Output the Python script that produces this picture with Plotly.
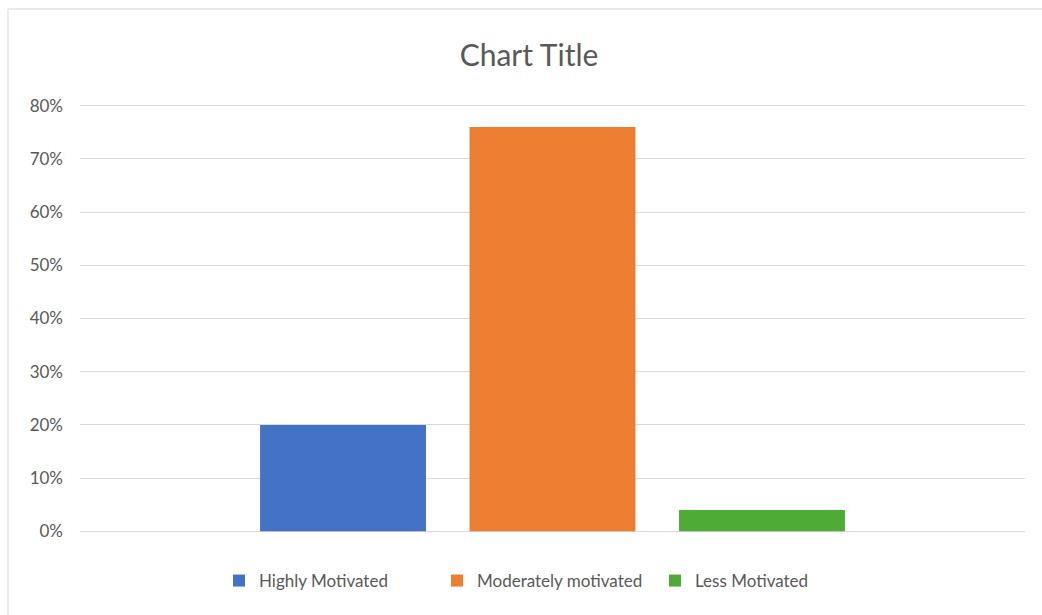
import plotly.graph_objects as go

series = ["Highly Motivated", "Moderately motivated", "Less Motivated"]
values = [0.20, 0.76, 0.04]
colors = ["#4472C4", "#ED7D31", "#4EAB35"]
category = [""]
tick_vals = [0, 0.1, 0.2, 0.3, 0.4, 0.5, 0.6, 0.7, 0.8]
tick_text = ["0%", "10%", "20%", "30%", "40%", "50%", "60%", "70%", "80%"]

fig = go.Figure()
for name, v, c in zip(series, values, colors):
    fig.add_trace(go.Bar(x=category, y=[v], name=name, marker=dict(color=c, line=dict(width=0))))

# layout geometry (pixels)
W, H = 1042, 615
L, R = 80, 1025
T, B = 103, 534          # plot area top/bottom (range padded slightly so edge gridlines render)
pad = 0.005
ph = B - T

def py(pix):  # page y pixel -> paper y
    return (B - pix) / ph

def px(pix):
    return (pix - L) / (R - L)

font = "Lato, 'Open Sans', sans-serif"
fig.update_layout(
    width=W, height=H,
    margin=dict(l=L, r=W - R, t=T, b=H - B),
    paper_bgcolor="white", plot_bgcolor="white",
    barmode="group", bargap=0.335, bargroupgap=0.208,
    title=dict(text="Chart Title", x=px(529), xanchor="center", xref="paper",
               y=1 - 55 / H, yanchor="middle",
               font=dict(family=font, size=30, color="#595959")),
    legend=dict(orientation="h", x=px(546), xanchor="center", xref="paper",
                y=py(581), yanchor="middle",
                font=dict(family=font, size=17, color="#595959"),
                itemwidth=30, traceorder="normal",
                entrywidth=173, entrywidthmode="pixels"),
    showlegend=True,
    font=dict(family=font, color="#595959"),
)
fig.update_xaxes(showticklabels=False, showgrid=False, zeroline=False, showline=False, ticks="")
fig.update_yaxes(range=[-pad, 0.8 + pad], tickvals=tick_vals, ticktext=tick_text,
                 showgrid=True, gridcolor="#D9D9D9", gridwidth=1,
                 zeroline=False, showline=False, ticks="",
                 ticklabelstandoff=16,
                 tickfont=dict(family=font, size=17, color="#595959"))
# light frame (top & left edges of chart area)
fig.add_shape(type="line", xref="paper", yref="paper",
              x0=px(8), x1=1.05, y0=py(9), y1=py(9),
              line=dict(color="#E3E3E3", width=1.5))
fig.add_shape(type="line", xref="paper", yref="paper",
              x0=px(8), x1=px(8), y0=py(9), y1=py(640),
              line=dict(color="#E3E3E3", width=1.5))
fig.write_html("out.html")
